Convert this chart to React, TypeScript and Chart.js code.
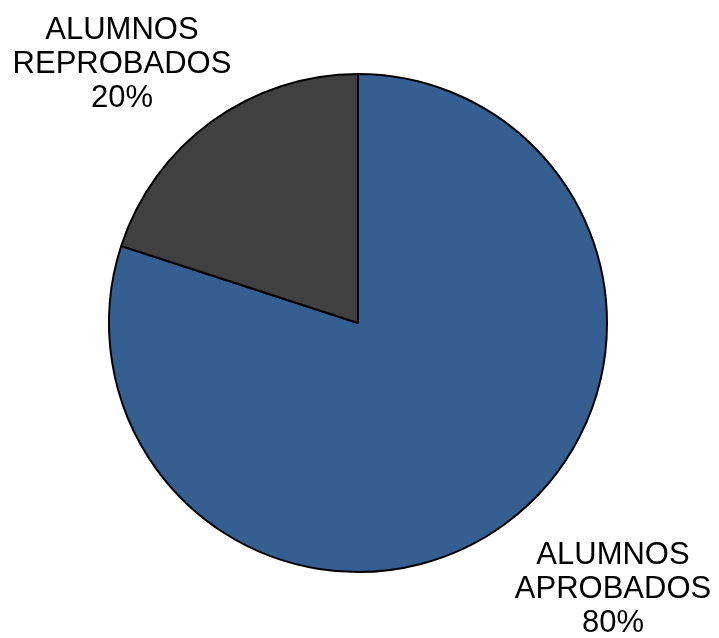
import React, { useEffect, useRef } from "react";
import { Chart, registerables } from "chart.js";

Chart.register(...registerables);

const categories = ["ALUMNOS APROBADOS", "ALUMNOS REPROBADOS"];
const labelLines = [
  ["ALUMNOS", "APROBADOS", "80%"],
  ["ALUMNOS", "REPROBADOS", "20%"],
];
const values = [80, 20];
const colors = ["#365F91", "#404040"];

const outsideLabels = {
  id: "outsideLabels",
  afterDatasetsDraw(chart: any, _args: any, opts: any) {
    const ctx = chart.ctx;
    const meta = chart.getDatasetMeta(0);
    ctx.save();
    ctx.fillStyle = "#000";
    ctx.font = "31px 'Liberation Sans', Arial, sans-serif";
    ctx.textAlign = "center";
    ctx.textBaseline = "alphabetic";
    meta.data.forEach((arc: any, i: number) => {
      const r = arc.outerRadius;
      const ax = arc.x + opts.offsets[i][0] * r;
      const ay = arc.y + opts.offsets[i][1] * r;
      const lines = labelLines[i];
      const lh = 34;
      lines.forEach((t: string, j: number) => {
        ctx.fillText(t, ax, ay + (j - 1) * lh);
      });
    });
    ctx.restore();
  },
};

export default function App() {
  const ref = useRef<HTMLCanvasElement>(null);
  useEffect(() => {
    document.body.style.margin = "0";
    const chart = new Chart(ref.current!, {
      type: "pie",
      data: {
        labels: categories,
        datasets: [
          {
            data: values,
            backgroundColor: colors,
            borderColor: "#000",
            borderWidth: 2,
          },
        ],
      },
      options: {
        animation: false,
        responsive: false,
        radius: 249,
        layout: { padding: { left: 0, right: 3, top: 8, bottom: 0 } },
        plugins: {
          legend: { display: false },
          tooltip: { enabled: false },
          outsideLabels: {
            offsets: [
              [1.024, 1.104],
              [-0.948, -1.004],
            ],
          },
        } as any,
      } as any,
      plugins: [outsideLabels],
    });
    return () => chart.destroy();
  }, []);
  return (
    <div style={{ width: 719, height: 638, background: "#fff" }}>
      <canvas ref={ref} width={719} height={638} style={{ display: "block" }} />
    </div>
  );
}
